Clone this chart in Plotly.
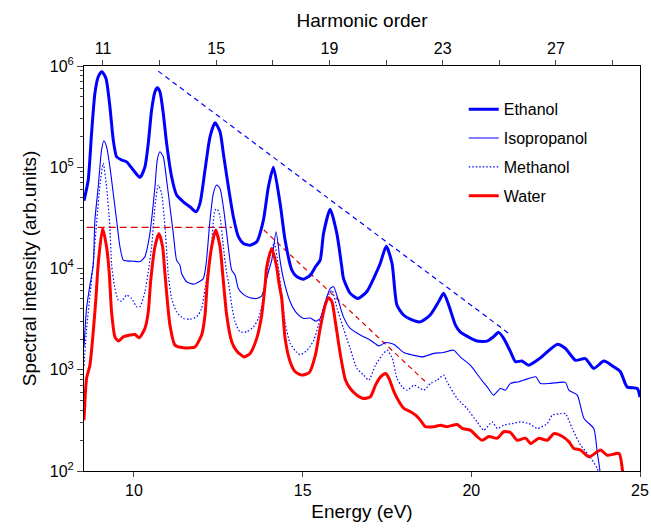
import plotly.graph_objects as go

# ---------------- data ----------------
eth_E = [8.52, 8.645, 8.744, 8.843, 8.942, 9.05, 9.17, 9.288, 9.387, 9.486, 9.634, 9.783, 9.98,
         10.178, 10.326, 10.425, 10.524, 10.623, 10.692, 10.771, 10.87, 10.969, 11.117, 11.265,
         11.463, 11.66, 11.84, 11.958, 12.107, 12.255, 12.403, 12.552, 12.65, 12.799, 12.947,
         13.095, 13.244, 13.442, 13.64, 13.838, 13.986, 14.134, 14.332, 14.48, 14.68, 14.83,
         15.03, 15.23, 15.38, 15.52, 15.62, 15.816, 16.014, 16.16, 16.21, 16.41, 16.64, 16.90,
         17.15, 17.30, 17.478, 17.65, 17.795, 17.99, 18.19, 18.49, 18.78, 19.03, 19.18, 19.33,
         19.53, 19.67, 19.87, 20.17, 20.47, 20.66, 20.81, 20.96, 21.16, 21.31, 21.50, 21.70,
         22.05, 22.54, 22.79, 23.09, 23.38, 23.63, 23.93, 24.22, 24.42, 24.62, 24.92, 25.0]
eth_I = [4.67e4, 7.48e4, 2.16e5, 5.37e5, 7.83e5, 8.79e5, 7.55e5, 3.96e5, 1.86e5, 1.27e5, 1.18e5,
         1.13e5, 9.38e4, 7.94e4, 1.01e5, 1.72e5, 3.67e5, 5.57e5, 6.11e5, 5.57e5, 3.40e5, 1.72e5,
         8.05e4, 5.31e4, 4.56e4, 4.07e4, 3.63e4, 4.40e4, 9.38e4, 2.00e5, 2.75e5, 2.24e5, 1.37e5,
         6.41e4, 3.24e4, 2.06e4, 1.77e4, 1.70e4, 1.84e4, 3.01e4, 6.41e4, 9.98e4, 4.40e4, 1.91e4,
         9.64e3, 8.28e3, 7.85e3, 8.61e3, 1.04e4, 1.21e4, 2.22e4, 3.84e4, 2.22e4, 1.04e4, 7.98e3,
         5.68e3, 5.06e3, 5.89e3, 8.61e3, 1.12e4, 1.66e4, 1.12e4, 4.35e3, 3.47e3, 3.16e3, 2.97e3,
         3.47e3, 4.69e3, 5.68e3, 4.35e3, 2.76e3, 2.37e3, 2.15e3, 1.92e3, 1.92e3, 2.12e3, 2.34e3,
         2.04e3, 1.51e3, 1.20e3, 1.22e3, 1.11e3, 1.31e3, 1.78e3, 1.62e3, 1.24e3, 1.29e3, 1.03e3,
         1.22e3, 1.07e3, 955, 676, 653, 537]

iso_E = [8.52, 8.596, 8.695, 8.794, 8.843, 8.942, 9.04, 9.109, 9.188, 9.288, 9.387, 9.486, 9.585,
         9.684, 9.783, 9.98, 10.178, 10.326, 10.474, 10.623, 10.692, 10.771, 10.87, 10.969,
         11.068, 11.166, 11.265, 11.364, 11.413, 11.562, 11.76, 11.958, 12.057, 12.136, 12.255,
         12.354, 12.453, 12.552, 12.65, 12.749, 12.898, 12.997, 13.095, 13.244, 13.442, 13.64,
         13.788, 13.887, 13.986, 14.085, 14.214, 14.33, 14.43, 14.63, 14.83, 15.03, 15.23, 15.38,
         15.52, 15.67, 15.82, 15.92, 16.07, 16.21, 16.41, 16.71, 17.01, 17.26, 17.46, 17.71,
         18.0, 18.25, 18.55, 18.89, 19.18, 19.48, 19.67, 19.97, 20.27, 20.47, 20.66, 20.86,
         21.01, 21.16, 21.41, 21.56, 21.91, 22.05, 22.35, 22.79, 22.89, 23.14, 23.34, 23.63,
         23.73, 23.81, 23.85]
iso_I = [1.68e3, 4.04e3, 6.85e3, 1.08e4, 3.01e4, 6.41e4, 1.48e5, 1.83e5, 1.60e5, 1.01e5, 5.52e4,
         3.01e4, 1.64e4, 1.21e4, 1.19e4, 1.18e4, 1.17e4, 1.31e4, 2.22e4, 6.41e4, 1.18e5, 1.42e5,
         1.27e5, 7.46e4, 4.07e4, 2.22e4, 1.21e4, 1.08e4, 8.93e3, 7.40e3, 7.01e3, 7.50e3, 7.94e3,
         1.08e4, 3.01e4, 5.52e4, 6.67e4, 6.17e4, 4.07e4, 2.22e4, 9.64e3, 8.61e3, 6.35e3, 5.55e3,
         5.14e3, 5.06e3, 5.37e3, 6.85e3, 9.27e3, 1.21e4, 2.31e4, 1.21e4, 7.94e3, 4.69e3, 3.60e3,
         3.21e3, 3.24e3, 3.02e3, 3.21e3, 4.69e3, 6.35e3, 6.61e3, 4.69e3, 3.33e3, 2.56e3, 2.20e3,
         1.96e3, 1.72e3, 1.86e3, 1.78e3, 1.48e3, 1.40e3, 1.34e3, 1.45e3, 1.48e3, 1.56e3, 1.34e3,
         1.11e3, 820, 678, 561, 653, 628, 733, 762, 791, 851, 733, 733, 750, 628, 561, 330, 263,
         155, 102, 63]

met_E = [8.52, 8.6, 8.7, 8.8, 8.9, 9.0, 9.09, 9.188, 9.288, 9.337, 9.437, 9.535, 9.634, 9.783,
         9.931, 10.08, 10.178, 10.326, 10.425, 10.524, 10.623, 10.722, 10.82, 10.919, 10.988,
         11.018, 11.117, 11.265, 11.463, 11.66, 11.859, 12.007, 12.107, 12.186, 12.304, 12.403,
         12.47, 12.552, 12.65, 12.749, 12.799, 12.898, 12.997, 13.145, 13.343, 13.541, 13.689,
         13.838, 13.937, 14.05, 14.16, 14.27, 14.38, 14.48, 14.63, 14.83, 14.93, 15.13, 15.33,
         15.47, 15.62, 15.77, 15.87, 16.02, 16.21, 16.41, 16.61, 16.81, 16.96, 17.16, 17.36,
         17.51, 17.66, 17.80, 17.95, 18.1, 18.30, 18.49, 18.59, 18.79, 18.99, 19.18, 19.28,
         19.58, 19.87, 20.17, 20.37, 20.62, 20.77, 20.96, 21.21, 21.46, 21.71, 21.96, 22.25,
         22.40, 22.65, 22.79, 22.99, 23.24, 23.49, 23.73, 23.83]
met_I = [1.1e3, 2.6e3, 5.5e3, 1.2e4, 3.0e4, 7.0e4, 1.09e5, 6.41e4, 2.58e4, 1.10e4, 6.35e3, 4.88e3,
         4.76e3, 5.46e3, 5.06e3, 4.19e3, 4.19e3, 5.89e3, 9.27e3, 1.64e4, 4.07e4, 6.67e4, 5.52e4,
         2.58e4, 1.21e4, 8.61e3, 5.06e3, 3.73e3, 3.21e3, 3.16e3, 3.33e3, 4.03e3, 6.35e3, 9.27e3,
         1.77e4, 3.78e4, 3.85e4, 3.24e4, 1.64e4, 8.91e3, 7.40e3, 4.35e3, 2.98e3, 2.37e3, 2.37e3,
         2.65e3, 3.21e3, 5.06e3, 8.61e3, 1.4e4, 1.8e4, 1.1e4, 5.6e3, 2.97e3, 1.82e3, 1.48e3,
         1.41e3, 1.55e3, 1.96e3, 2.76e3, 4.04e3, 5.46e3, 6.1e3, 4.04e3, 2.56e3, 1.62e3, 1.03e3,
         885, 789, 1.11e3, 1.40e3, 1.56e3, 1.29e3, 820, 678, 628, 705, 653, 628, 733, 791, 885,
         760, 520, 415, 305, 253, 305, 263, 283, 294, 305, 294, 263, 294, 356, 369, 369, 263,
         180, 143, 106, 85]

wat_E = [8.52, 8.596, 8.695, 8.794, 8.873, 8.942, 9.07, 9.188, 9.27, 9.337, 9.437, 9.535, 9.684,
         9.882, 10.03, 10.157, 10.326, 10.425, 10.494, 10.623, 10.74, 10.85, 10.919, 11.068,
         11.216, 11.463, 11.66, 11.81, 12.007, 12.107, 12.176, 12.304, 12.423, 12.552, 12.63,
         12.749, 12.898, 13.046, 13.264, 13.442, 13.64, 13.788, 13.887, 13.936, 14.085, 14.23,
         14.3, 14.38, 14.48, 14.63, 14.78, 14.98, 15.2, 15.38, 15.52, 15.67, 15.77, 15.87, 15.97,
         16.12, 16.27, 16.41, 16.61, 16.81, 17.01, 17.16, 17.31, 17.46, 17.56, 17.71, 17.86,
         18.0, 18.2, 18.35, 18.49, 18.64, 18.89, 19.09, 19.28, 19.58, 19.73, 19.97, 20.17,
         20.32, 20.52, 20.77, 20.96, 21.16, 21.36, 21.61, 21.76, 22.0, 22.25, 22.45, 22.70,
         22.89, 23.04, 23.24, 23.49, 23.83, 24.03, 24.38, 24.48, 24.53]
wat_I = [318, 820, 1.11e3, 2.37e3, 5.06e3, 1.12e4, 2.49e4, 1.64e4, 8.91e3, 3.73e3, 2.11e3,
         1.92e3, 2.11e3, 2.20e3, 2.23e3, 2.07e3, 2.56e3, 3.73e3, 7.40e3, 1.64e4, 2.22e4, 1.64e4,
         8.91e3, 2.75e3, 1.75e3, 1.65e3, 1.65e3, 1.68e3, 2.20e3, 3.47e3, 7.40e3, 1.64e4, 2.40e4,
         1.64e4, 8.91e3, 3.47e3, 1.89e3, 1.53e3, 1.34e3, 1.45e3, 2.04e3, 3.47e3, 6.85e3, 1.04e4,
         1.58e4, 1.04e4, 7.1e3, 5.06e3, 2.04e3, 1.20e3, 955, 885, 940, 1.40e3, 2.56e3, 4.35e3,
         5.14e3, 4.69e3, 2.98e3, 1.40e3, 791, 653, 561, 520, 541, 705, 851, 918, 820, 605, 482,
         415, 385, 356, 318, 274, 274, 283, 274, 288, 263, 253, 219, 201, 219, 211, 244, 240,
         201, 211, 186, 211, 201, 234, 219, 195, 167, 161, 138, 161, 143, 149, 102, 85]

# guide lines (dashed)
blue_guide_E = [10.72, 21.1]
blue_guide_I = [8.9e5, 2.3e3]
red_flat_E = [8.6, 12.9]
red_flat_I = [2.55e4, 2.55e4]
red_slope_E = [13.85, 18.72]
red_slope_I = [2.4e4, 7.2e2]

x_ticks = [10, 15, 20, 25]
y_ticks = [1e2, 1e3, 1e4, 1e5, 1e6]
y_ticktext = ["10<sup>2</sup>", "10<sup>3</sup>", "10<sup>4</sup>", "10<sup>5</sup>", "10<sup>6</sup>"]
harm_ticks = [11, 15, 19, 23, 27]
harm_carrier = [11, 27]

BLUE = "#0000ff"
RED = "#ff0000"
FONT = "Liberation Sans, Arial, Helvetica, sans-serif"

fig = go.Figure()

fig.add_trace(go.Scatter(x=blue_guide_E, y=blue_guide_I, mode="lines", showlegend=False,
                         line=dict(color=BLUE, width=1.2, dash="5px,4px"), hoverinfo="skip"))
fig.add_trace(go.Scatter(x=red_flat_E, y=red_flat_I, mode="lines", showlegend=False,
                         line=dict(color="#e00000", width=1.2, dash="7px,4px"), hoverinfo="skip"))
fig.add_trace(go.Scatter(x=red_slope_E, y=red_slope_I, mode="lines", showlegend=False,
                         line=dict(color="#e00000", width=1.2, dash="5px,4px"), hoverinfo="skip"))

fig.add_trace(go.Scatter(x=eth_E, y=eth_I, mode="lines", name="Ethanol", legendgroup="a",
                         line=dict(color=BLUE, width=3, shape="spline", smoothing=0.6)))
fig.add_trace(go.Scatter(x=iso_E, y=iso_I, mode="lines", name="Isopropanol", legendgroup="b",
                         line=dict(color=BLUE, width=1.1, shape="spline", smoothing=0.6)))
fig.add_trace(go.Scatter(x=met_E, y=met_I, mode="lines", name="Methanol", legendgroup="c",
                         line=dict(color=BLUE, width=1.2, dash="1.5px,2px", shape="spline",
                                   smoothing=0.6)))
fig.add_trace(go.Scatter(x=wat_E, y=wat_I, mode="lines", name="Water", legendgroup="d",
                         line=dict(color=RED, width=3, shape="spline", smoothing=0.6)))

# invisible trace to carry the top (harmonic order) axis
fig.add_trace(go.Scatter(x=harm_carrier, y=[None, None], xaxis="x2", mode="lines",
                         showlegend=False, hoverinfo="skip"))

fig.update_layout(
    width=651, height=529,
    margin=dict(l=84, r=11, t=66, b=58, autoexpand=False),
    paper_bgcolor="white", plot_bgcolor="white",
    font=dict(family=FONT, size=16, color="black"),
    xaxis=dict(range=[8.52, 25.0], tickvals=x_ticks, ticks="outside", ticklen=5,
               showline=True, linecolor="black", linewidth=1, showgrid=False, zeroline=False,
               automargin=False,
               title=dict(text="Energy (eV)", standoff=6), tickfont=dict(size=16)),
    xaxis2=dict(overlaying="x", side="top", anchor="y", range=[10.33, 29.97],
                tickvals=harm_ticks, ticks="outside", ticklen=5,
                minor=dict(tick0=11, dtick=2, ticks="outside", ticklen=5, showgrid=False),
                showline=True, linecolor="black", linewidth=1, showgrid=False, zeroline=False,
                automargin=False,
                title=dict(text="Harmonic order", standoff=6), tickfont=dict(size=16)),
    yaxis=dict(type="log", range=[2, 6], tickvals=y_ticks, ticktext=y_ticktext,
               ticks="outside", ticklen=6, showline=True, linecolor="black", linewidth=1,
               mirror=True, showgrid=False, zeroline=False, automargin=False,
               minor=dict(ticks="outside", ticklen=3, dtick="D1", showgrid=False),
               title=dict(text="Spectral intensity (arb.units)", standoff=8),
               tickfont=dict(size=16)),
    legend=dict(x=0.683, y=0.935, xanchor="left", yanchor="top", bgcolor="rgba(0,0,0,0)",
                font=dict(size=16), traceorder="grouped", tracegroupgap=5, itemwidth=30),
)

fig.write_html("out.html")
